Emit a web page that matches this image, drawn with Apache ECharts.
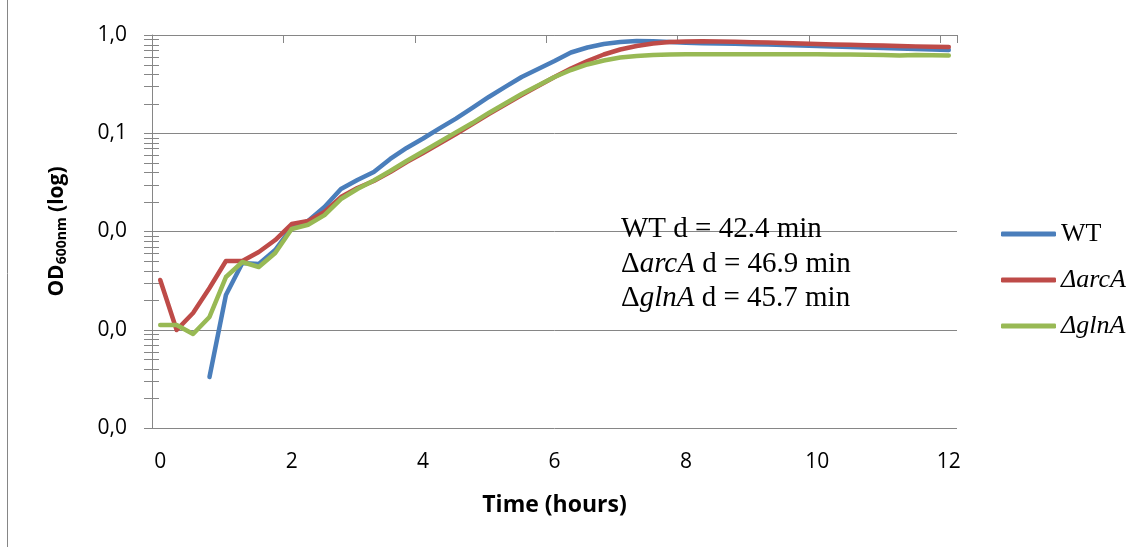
<!DOCTYPE html>
<html>
<head>
<meta charset="utf-8">
<script src="https://cdn.jsdelivr.net/npm/echarts@6/dist/echarts.min.js"></script>
<style>
  html, body { margin: 0; padding: 0; background: #fff; }
  #chart { width: 1144px; height: 547px; }
</style>
</head>
<body>
<div id="chart"></div>
<script>
// Sampling times (hours), one reading every 15 minutes
const hours = [0, 0.25, 0.5, 0.75, 1, 1.25, 1.5, 1.75, 2, 2.25, 2.5, 2.75,
  3, 3.25, 3.5, 3.75, 4, 4.25, 4.5, 4.75, 5, 5.25, 5.5, 5.75,
  6, 6.25, 6.5, 6.75, 7, 7.25, 7.5, 7.75, 8, 8.25, 8.5, 8.75,
  9, 9.25, 9.5, 9.75, 10, 10.25, 10.5, 10.75, 11, 11.25, 11.5, 11.75, 12];

// OD600 readings per strain
const wt = [null, null, null, 0.00033, 0.00226, 0.00478, 0.00467, 0.00648,
  0.0109, 0.0128, 0.0178, 0.0271, 0.0334, 0.0403, 0.0547, 0.0708,
  0.0884, 0.112, 0.141, 0.181, 0.234, 0.296, 0.374, 0.451,
  0.544, 0.664, 0.746, 0.810, 0.849, 0.869, 0.865, 0.849,
  0.833, 0.825, 0.819, 0.814, 0.806, 0.799, 0.791, 0.782,
  0.773, 0.764, 0.755, 0.746, 0.738, 0.729, 0.720, 0.712, 0.704];

const arcA = [0.00321, 0.000994, 0.00148, 0.00266, 0.00501, 0.00501, 0.00618, 0.00819,
  0.0119, 0.0128, 0.0158, 0.0224, 0.0277, 0.0327, 0.0403, 0.0510,
  0.0630, 0.0786, 0.0983, 0.124, 0.157, 0.196, 0.245, 0.303,
  0.374, 0.456, 0.544, 0.633, 0.712, 0.773, 0.819, 0.849,
  0.859, 0.863, 0.859, 0.853, 0.845, 0.837, 0.829, 0.819,
  0.810, 0.802, 0.795, 0.788, 0.780, 0.773, 0.766, 0.760, 0.755];

const glnA = [0.00112, 0.00112, 0.000905, 0.00135, 0.00344, 0.00489, 0.00435, 0.00604,
  0.0106, 0.0117, 0.0147, 0.0214, 0.0271, 0.0331, 0.0413, 0.0522,
  0.0652, 0.0814, 0.102, 0.127, 0.161, 0.201, 0.251, 0.306,
  0.374, 0.440, 0.501, 0.550, 0.590, 0.611, 0.626, 0.633,
  0.636, 0.638, 0.638, 0.638, 0.638, 0.638, 0.637, 0.636,
  0.636, 0.634, 0.633, 0.630, 0.626, 0.620, 0.626, 0.622, 0.618];

const seriesNames = ['WT', 'ΔarcA', 'ΔglnA'];
const seriesColors = ['#4A7EBB', '#BE4B48', '#98B954'];
const yMin = 0.0001, yMax = 1;

const GRID = { left: 152, right: 187, top: 35, bottom: 119 };
const GRAY = '#868686';
const SANS = '"Open Sans", "Noto Sans", sans-serif';
const SERIF = '"Liberation Serif", "DejaVu Serif", serif';

const chart = echarts.init(document.getElementById('chart'), null, { renderer: 'canvas' });

const option = {
  animation: false,
  backgroundColor: '#fff',
  grid: GRID,
  xAxis: [
    {
      type: 'category',
      data: hours,
      position: 'bottom',
      boundaryGap: true,
      axisLine: { show: false },
      axisTick: { show: false },
      splitLine: { show: false },
      axisLabel: {
        interval: 7,
        margin: 24,
        color: '#000',
        fontFamily: SANS,
        fontSize: 21,
        formatter: v => String(Number(v))
      },
      name: 'Time (hours)',
      nameLocation: 'middle',
      nameGap: 66,
      nameTextStyle: { color: '#000', fontFamily: SANS, fontSize: 23, fontWeight: 'bold' }
    },
    {
      type: 'category',
      data: hours,
      position: 'top',
      boundaryGap: true,
      axisLine: { show: true, lineStyle: { color: GRAY, width: 1 } },
      axisTick: { show: true, inside: true, length: 8, interval: 7, lineStyle: { color: GRAY, width: 1 } },
      axisLabel: { show: false },
      splitLine: { show: false }
    }
  ],
  yAxis: {
    type: 'log',
    logBase: 10,
    min: yMin,
    max: yMax,
    axisLine: { show: true, lineStyle: { color: GRAY, width: 1 } },
    axisTick: { show: true, length: 8, lineStyle: { color: GRAY, width: 1 } },
    splitLine: { show: true, lineStyle: { color: GRAY, width: 1 } },
    axisLabel: {
      margin: 25,
      color: '#000',
      fontFamily: SANS,
      fontSize: 21,
      formatter: v => Number(v).toFixed(1).replace('.', ',')
    },
    name: '{a|OD}{s|600nm}{a| (log)}',
    nameLocation: 'middle',
    nameGap: 82,
    nameRotate: 90,
    nameTextStyle: {
      color: '#000',
      rich: {
        a: { fontFamily: SANS, fontSize: 21, fontWeight: 'bold', color: '#000', lineHeight: 26 },
        s: { fontFamily: SANS, fontSize: 14, fontWeight: 'bold', color: '#000', lineHeight: 26, padding: [10, 0, 0, 0] }
      }
    }
  },
  legend: {
    orient: 'vertical',
    left: 996,
    top: 215,
    icon: 'roundRect',
    itemWidth: 55,
    itemHeight: 5,
    itemGap: 18,
    data: seriesNames,
    textStyle: {
      color: '#000',
      fontFamily: SERIF,
      fontSize: 26,
      lineHeight: 28,
      rich: {
        i: { fontFamily: SERIF, fontSize: 26, fontStyle: 'italic', color: '#000', lineHeight: 28 }
      }
    },
    formatter: name => (name === 'WT' ? name : '{i|' + name + '}')
  },
  series: [wt, arcA, glnA].map((d, i) => ({
    name: seriesNames[i],
    type: 'line',
    data: d,
    showSymbol: false,
    symbol: 'none',
    smooth: false,
    color: seriesColors[i],
    lineStyle: { color: seriesColors[i], width: 4.5, cap: 'round', join: 'round' },
    emphasis: { disabled: true }
  }))
};

chart.setOption(option);

// Decorations: outer frame, logarithmic minor ticks and the doubling-time note
function addDecorations() {
  const elements = [];
  elements.push({
    type: 'rect',
    shape: { x: 7.5, y: -5, width: 1200, height: 600 },
    style: { fill: 'none', stroke: GRAY, lineWidth: 1 },
    silent: true
  });
  const axisX = GRID.left;
  for (let k = -4; k < 0; k++) {
    for (let m = 2; m <= 9; m++) {
      const py = Math.round(chart.convertToPixel({ yAxisIndex: 0 }, m * Math.pow(10, k))) + 0.5;
      elements.push({
        type: 'line',
        shape: { x1: axisX - 8, y1: py, x2: axisX + 7, y2: py },
        style: { stroke: GRAY, lineWidth: 1 },
        silent: true
      });
    }
  }
  elements.push({
    type: 'text',
    left: 621,
    top: 215,
    silent: true,
    style: {
      text: '{n|WT d = 42.4 min}\n{n|Δ}{i|arcA}{n| d = 46.9 min}\n{n|Δ}{i|glnA}{n| d = 45.7 min}',
      fill: '#000',
      rich: {
        n: { fontFamily: SERIF, fontSize: 29, lineHeight: 34.5, fill: '#000' },
        i: { fontFamily: SERIF, fontSize: 29, lineHeight: 34.5, fontStyle: 'italic', fill: '#000' }
      }
    }
  });
  chart.setOption({ graphic: { elements: elements } });
}
addDecorations();
</script>
</body>
</html>
